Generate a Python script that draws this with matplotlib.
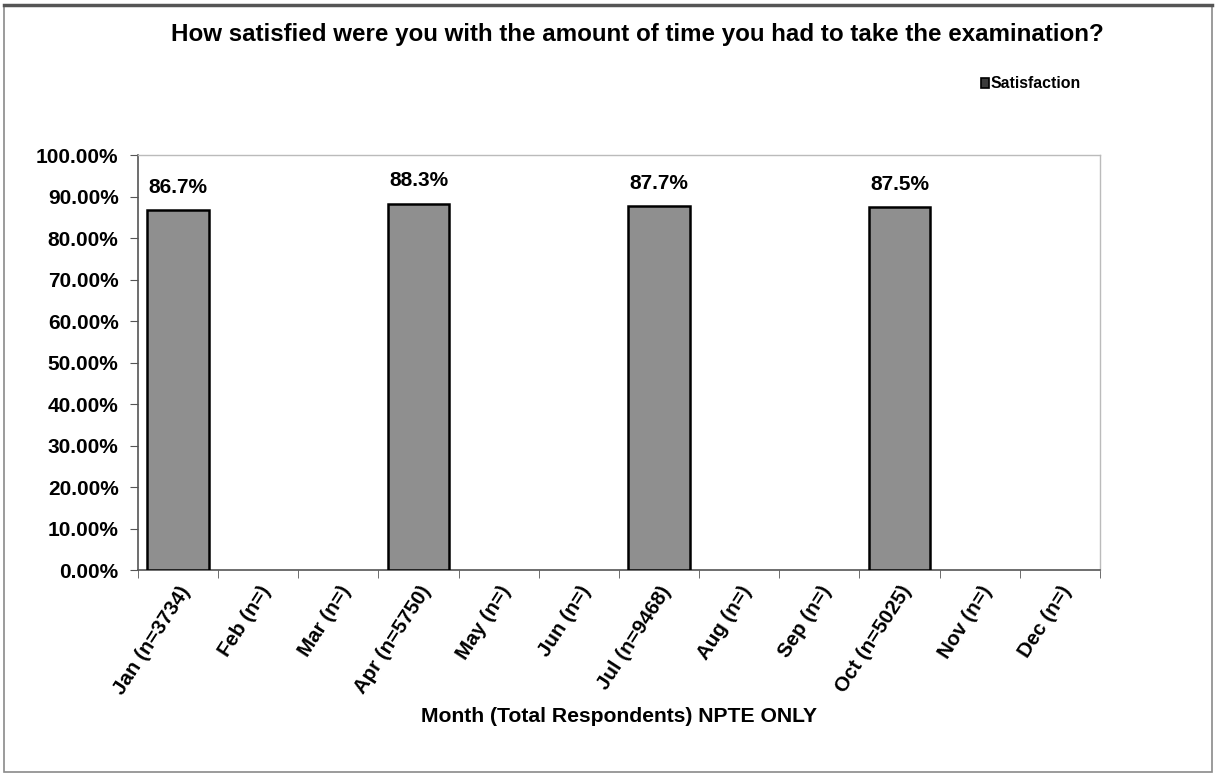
import matplotlib
matplotlib.use("Agg")
import matplotlib.pyplot as plt
from matplotlib.patches import Rectangle
from matplotlib.ticker import MultipleLocator, FuncFormatter

plt.rcParams['font.family'] = ['Liberation Sans', 'DejaVu Sans']
plt.rcParams['font.weight'] = 'bold'

months = ["Jan", "Feb", "Mar", "Apr", "May", "Jun",
          "Jul", "Aug", "Sep", "Oct", "Nov", "Dec"]
respondents = ["3734", "", "", "5750", "", "", "9468", "", "", "5025", "", ""]
satisfaction = [86.7, None, None, 88.3, None, None, 87.7, None, None, 87.5, None, None]

tick_labels = [f"{m} (n={n})" for m, n in zip(months, respondents)]

fig = plt.figure(figsize=(12.16, 7.77), dpi=100)
fig.patch.set_facecolor("white")

# outer chart frame
fig.add_artist(Rectangle((0.003, 0.006), 0.994, 0.988, transform=fig.transFigure,
                         fill=False, edgecolor="#8a8a8a", linewidth=1.2))
fig.add_artist(plt.Line2D([0.003, 0.997], [0.994, 0.994], transform=fig.transFigure,
                          color="#555555", linewidth=2.5))

ax = fig.add_axes([0.1135, 0.2664, 0.791, 0.5341])

xs = list(range(len(months)))
for x, v in zip(xs, satisfaction):
    if v is None:
        continue
    ax.bar(x, v, width=0.77, color="#8f8f8f", edgecolor="black", linewidth=1.8, zorder=3)
    ax.text(x, v + 3.2, f"{v:.1f}%", ha="center", va="bottom",
            fontsize=15, fontweight="bold")

ax.set_xlim(-0.5, len(months) - 0.5)
ax.set_ylim(0, 100)
ax.yaxis.set_major_locator(MultipleLocator(10))
ax.yaxis.set_major_formatter(FuncFormatter(lambda v, p: f"{v:.2f}%"))

ax.set_xticks(xs)
ax.set_xticklabels(tick_labels, rotation=57, ha="right", va="top",
                   rotation_mode="anchor", fontsize=14.8, fontweight="bold")
ax.tick_params(axis="x", which="major", length=0, pad=9)
ax.set_xticks([x - 0.5 for x in range(len(months) + 1)], minor=True)
ax.tick_params(axis="x", which="minor", length=6, color="#555555")
ax.tick_params(axis="y", length=6, color="#555555", labelsize=15, pad=8)
for lbl in ax.get_yticklabels():
    lbl.set_fontweight("bold")

for side in ["top", "right"]:
    ax.spines[side].set_color("#bbbbbb")
    ax.spines[side].set_linewidth(1.0)
for side in ["left", "bottom"]:
    ax.spines[side].set_color("#555555")
    ax.spines[side].set_linewidth(1.2)

ax.set_xlabel("Month (Total Respondents) NPTE ONLY", fontsize=15.2,
              fontweight="bold", labelpad=7)

fig.text(0.524, 0.955, "How satisfied were you with the amount of time you had to take the examination?",
         ha="center", va="center", fontsize=17.4, fontweight="bold")

# legend
fig.add_artist(Rectangle((0.8065, 0.887), 0.0068, 0.0125, transform=fig.transFigure,
                         facecolor="#3a3a3a", edgecolor="black", linewidth=1.2))
fig.text(0.8145, 0.893, "Satisfaction", ha="left", va="center",
         fontsize=11.4, fontweight="bold")

fig.savefig("out.png", dpi=100, facecolor="white")
